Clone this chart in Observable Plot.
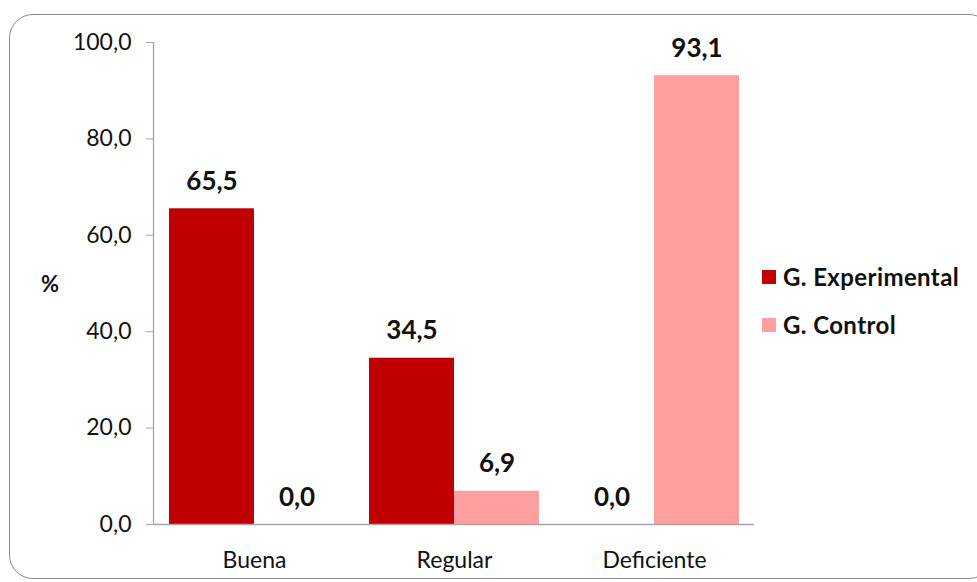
<!DOCTYPE html>
<html>
<head>
<meta charset="utf-8">
<script src="https://cdn.jsdelivr.net/npm/d3@7"></script>
<script src="https://cdn.jsdelivr.net/npm/@observablehq/plot@0.6"></script>
<style>
  html, body { margin: 0; padding: 0; background: #fff; overflow: hidden; }
  #wrap { position: relative; width: 977px; height: 582px; overflow: hidden; font-family: Lato, "Open Sans", sans-serif; }
  #border { position: absolute; left: 9px; top: 14px; width: 984px; height: 565px; border: 1.5px solid #8a8a8a; border-radius: 24px; box-sizing: border-box; }
  #chart { position: absolute; left: 0; top: 0; }
  #legend { position: absolute; left: 762px; top: 263px; font-weight: bold; font-size: 24px; letter-spacing: 0.4px; color: #111; }
  #legend .item { display: flex; align-items: center; height: 27px; margin-bottom: 21px; }
  #legend .sw { width: 14px; height: 14px; margin-right: 7px; }
  #ylab { position: absolute; left: 41px; top: 270px; font-weight: bold; font-size: 22px; color: #111; }
</style>
</head>
<body>
<div id="wrap">
  <div id="border"></div>
  <div id="chart"></div>
  <div id="ylab">%</div>
  <div id="legend"></div>
</div>
<script>
const categories = ["Buena", "Regular", "Deficiente"];
const series = ["G. Experimental", "G. Control"];
const experimental = [65.5, 34.5, 0.0];
const control = [0.0, 6.9, 93.1];
const colors = ["#C00000", "#FF9F9F"];
const yTicks = [0, 20, 40, 60, 80, 100];

const data = [];
categories.forEach((c, i) => {
  data.push({cat: c, serie: series[0], value: experimental[i]});
  data.push({cat: c, serie: series[1], value: control[i]});
});
const fmt = d => d.toFixed(1).replace(".", ",");

const plot = Plot.plot({
  width: 977,
  height: 582,
  marginLeft: 154,
  marginRight: 223,
  marginTop: 42,
  marginBottom: 58,
  style: {fontFamily: "Lato, 'Open Sans', sans-serif", background: "transparent", color: "#111"},
  fx: {domain: categories, padding: 0, label: null, axis: null},
  x: {domain: series, paddingInner: 0, paddingOuter: 0.1628, axis: null},
  y: {domain: [0, 100], label: null, axis: null},
  color: {domain: series, range: colors},
  marks: [
    Plot.barY(data, {fx: "cat", x: "serie", y: "value", fill: "serie"}),
    Plot.text(data, {fx: "cat", x: "serie", y: "value", text: d => fmt(d.value), lineAnchor: "bottom", dy: -19, fontWeight: "bold", fontSize: 26, fill: "#111"}),
    Plot.ruleY([0], {stroke: "#a6a6a6", strokeWidth: 1.3}),
    Plot.axisY({ticks: yTicks, tickFormat: fmt, tickSize: 8, tickPadding: 15, fontSize: 23, stroke: "#a6a6a6", label: null}),
    Plot.axisFx({anchor: "bottom", tickSize: 0, tickPadding: 27, fontSize: 23, label: null})
  ]
});
document.getElementById("chart").appendChild(plot);

// vertical y-axis line along the left edge of the plot area, using the plot's y scale
const ys = plot.scale("y");
d3.select(plot).append("line")
  .attr("x1", 153.5).attr("x2", 153.5)
  .attr("y1", ys.apply(0)).attr("y2", ys.apply(100))
  .attr("stroke", "#a6a6a6").attr("stroke-width", 1.3);

const legend = document.getElementById("legend");
series.forEach((s, i) => {
  const item = document.createElement("div");
  item.className = "item";
  item.innerHTML = `<span class="sw" style="background:${colors[i]}"></span><span>${s}</span>`;
  legend.appendChild(item);
});
</script>
</body>
</html>
